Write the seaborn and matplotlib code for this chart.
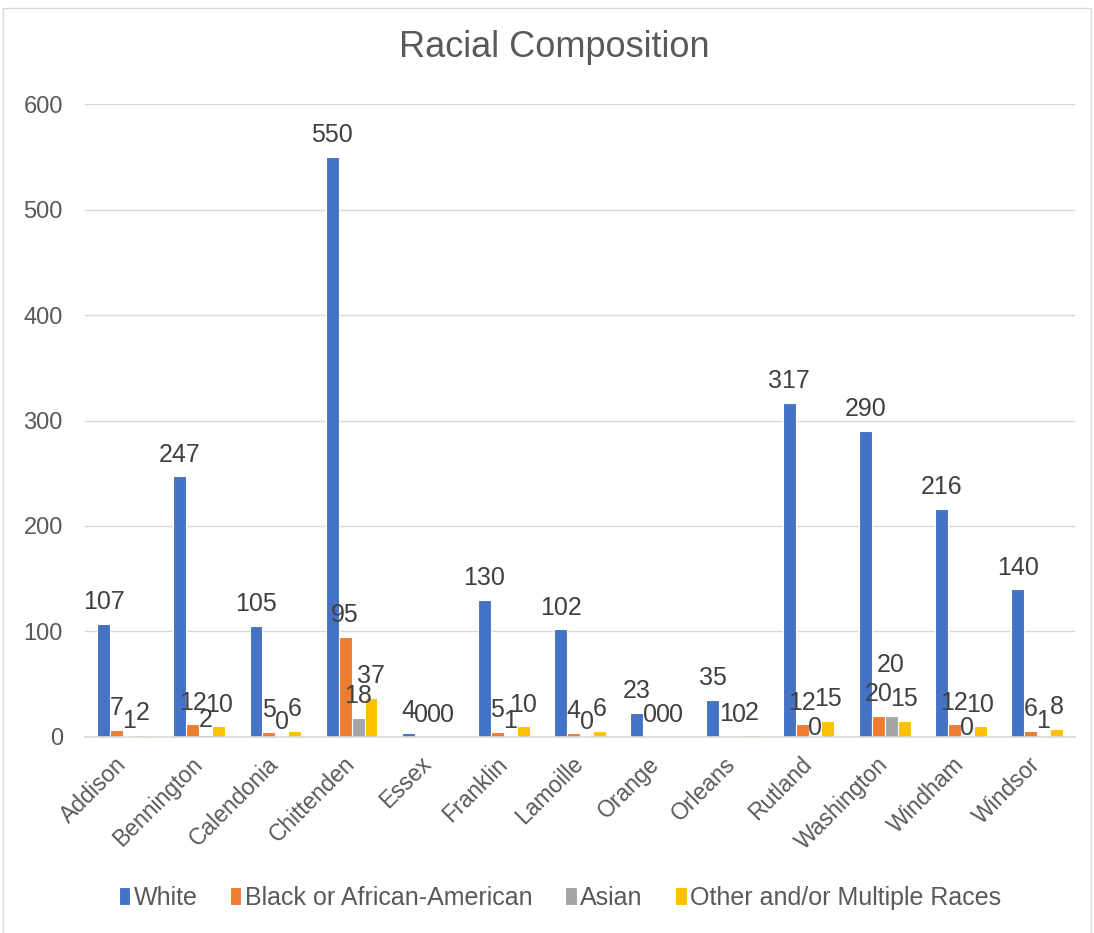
import matplotlib
matplotlib.use("Agg")
import matplotlib.pyplot as plt
from matplotlib.patches import Rectangle
import pandas as pd
import seaborn as sns

counties = ["Addison", "Bennington", "Calendonia", "Chittenden", "Essex", "Franklin",
            "Lamoille", "Orange", "Orleans", "Rutland", "Washington", "Windham", "Windsor"]
white = [107, 247, 105, 550, 4, 130, 102, 23, 35, 317, 290, 216, 140]
black = [7, 12, 5, 95, 0, 5, 4, 0, 1, 12, 20, 12, 6]
asian = [1, 2, 0, 18, 0, 1, 0, 0, 0, 0, 20, 0, 1]
other = [2, 10, 6, 37, 0, 10, 6, 0, 2, 15, 15, 10, 8]
series = ["White", "Black or African-American", "Asian", "Other and/or Multiple Races"]
colors = ["#4472C4", "#ED7D31", "#A5A5A5", "#FFC000"]

rows = []
for name, vals in zip(series, [white, black, asian, other]):
    for c, v in zip(counties, vals):
        rows.append({"County": c, "Race": name, "Count": v})
df = pd.DataFrame(rows)

sns.set_style("white")
plt.rcParams["font.family"] = ["Liberation Sans", "DejaVu Sans"]

fig = plt.figure(figsize=(10.94, 9.33), dpi=100)
ax = fig.add_axes([0.0777, 0.2101, 0.905, 0.6784])

sns.barplot(data=df, x="County", y="Count", hue="Race", hue_order=series,
            order=counties, palette=colors, width=0.68, ax=ax,
            edgecolor="white", linewidth=0.8, saturation=1, legend=True)

label_sets = []
for cont in ax.containers:
    label_sets.append(ax.bar_label(cont, fmt="%g", padding=7, fontsize=18,
                                   color="#404040"))

# Nudge crowded Asian labels (offsets in points) so they clear their neighbours.
asian_nudge = {"Addison": -5, "Bennington": -5, "Calendonia": -5, "Franklin": -5,
               "Lamoille": -5, "Windsor": -5, "Rutland": -9, "Windham": -9,
               "Washington": 21}
for county, txt in zip(counties, label_sets[2]):
    x0, y0 = txt.xyann
    txt.xyann = (x0, y0 + asian_nudge.get(county, 0))

ax.set_ylim(0, 600)
ax.set_yticks(range(0, 601, 100))
ax.yaxis.grid(True, color="#D9D9D9", linewidth=1)
ax.set_axisbelow(True)
for s in ["top", "right", "left"]:
    ax.spines[s].set_visible(False)
ax.spines["bottom"].set_color("#D9D9D9")
ax.spines["bottom"].set_linewidth(1.2)
ax.set_xlabel("")
ax.set_ylabel("")
ax.tick_params(axis="y", length=0, labelsize=17, colors="#595959", pad=16)
ax.tick_params(axis="x", length=0, labelsize=16.5, colors="#595959", pad=17)
plt.setp(ax.get_xticklabels(), rotation=45, ha="right", va="center",
         rotation_mode="anchor")
ax.set_xlim(-0.5, len(counties) - 0.5)

handles, labels = ax.get_legend_handles_labels()
ax.legend_.remove()
fig.legend(handles, labels, loc="center", bbox_to_anchor=(0.512, 0.0375), ncol=4,
           frameon=False, fontsize=18, handlelength=0.45, handleheight=0.75,
           handletextpad=0.15, columnspacing=1.3, labelcolor="#595959")

fig.text(0.507, 0.9486, "Racial Composition", ha="center", va="center",
         fontsize=26, color="#595959")

fig.patches.append(Rectangle((0.003, -0.01), 0.994, 1.0013, transform=fig.transFigure,
                             fill=False, edgecolor="#D9D9D9", linewidth=1))

fig.savefig("out.png", dpi=100)
